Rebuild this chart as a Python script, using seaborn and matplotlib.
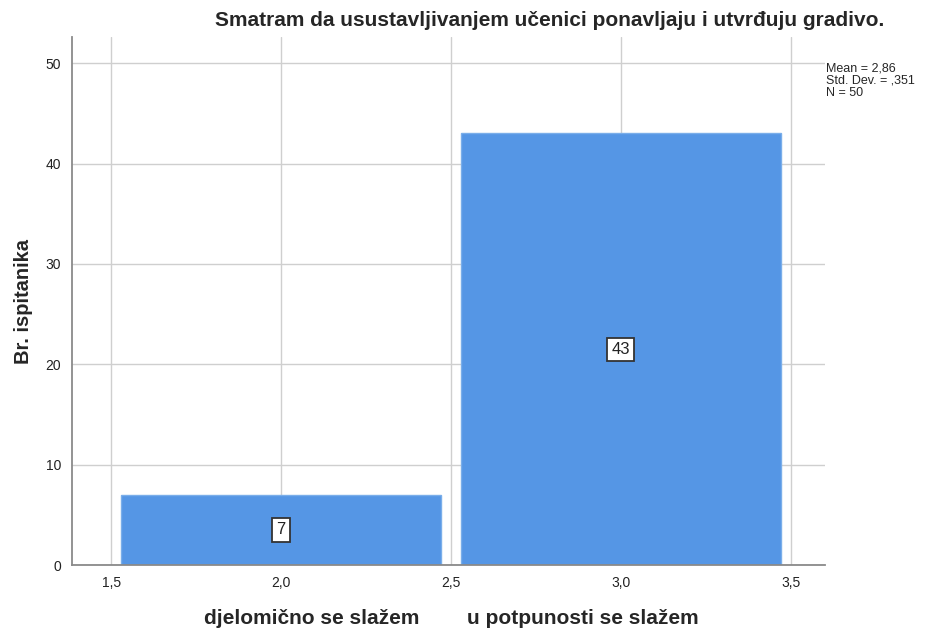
import matplotlib
matplotlib.use('Agg')
import matplotlib.pyplot as plt
import seaborn as sns
import pandas as pd

# data
values = [2.0, 3.0]
counts = [7, 43]
category_labels = ['djelomično se slažem', 'u potpunosti se slažem']
x_ticks = [1.5, 2.0, 2.5, 3.0, 3.5]
x_tick_labels = ['1,5', '2,0', '2,5', '3,0', '3,5']
y_ticks = [0, 10, 20, 30, 40, 50]
stats_text = 'Mean = 2,86\nStd. Dev. = ,351\nN = 50'
title = 'Smatram da usustavljivanjem učenici ponavljaju i utvrđuju gradivo.'

sns.set_style('white')
plt.rcParams['font.family'] = ['Liberation Sans', 'DejaVu Sans']

df = pd.DataFrame({'value': values, 'count': counts})

fig = plt.figure(figsize=(9.27, 6.28), dpi=100)
ax = fig.add_axes([0.0777, 0.1003, 0.812, 0.8407])

ax.grid(True, color='#cfcfcf', linewidth=1.0)
ax.set_axisbelow(True)

sns.barplot(data=df, x='value', y='count', native_scale=True, width=0.94,
            color='#5596e5', saturation=1, edgecolor='#7aaeea', linewidth=1.0, ax=ax)

for v, c in zip(values, counts):
    ax.text(v, c / 2, str(c), ha='center', va='center', fontsize=12, color='#222222',
            bbox=dict(boxstyle='square,pad=0.25', fc='white', ec='#333333', lw=1.3))

ax.set_xlim(1.385, 3.6)
ax.set_ylim(0, 52.6)
ax.set_xticks(x_ticks)
ax.set_xticklabels(x_tick_labels)
ax.set_yticks(y_ticks)
ax.tick_params(axis='both', labelsize=10, colors='#222222', length=0, pad=8)

for s in ['top', 'right']:
    ax.spines[s].set_visible(False)
for s in ['left', 'bottom']:
    ax.spines[s].set_color('#8a8a8a')
    ax.spines[s].set_linewidth(1.3)

ax.set_xlabel('')
ax.set_ylabel('Br. ispitanika', fontsize=14.5, fontweight='bold', labelpad=12)
ax.yaxis.set_label_coords(-0.052, 0.5)

fig.text(0.593, 0.968, title, ha='center', va='center', fontsize=15, fontweight='bold')
fig.text(0.891, 0.9, stats_text, ha='left', va='top', fontsize=9, linespacing=1.0)

label_x = [0.336, 0.629]
for lx, lab in zip(label_x, category_labels):
    fig.text(lx, 0.015, lab, ha='center', va='center', fontsize=15, fontweight='bold')

fig.savefig('out.png', dpi=100)
